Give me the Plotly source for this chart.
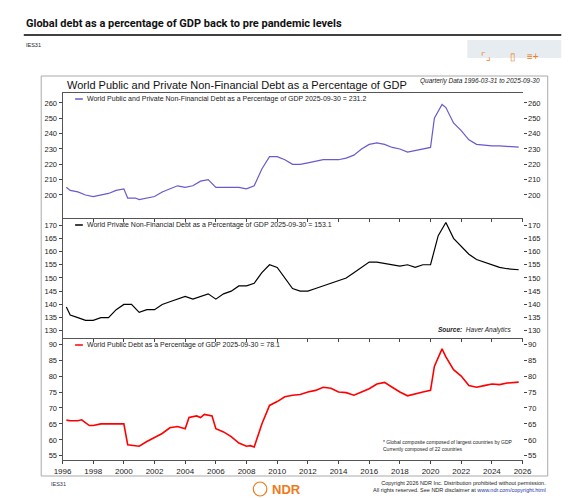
import plotly.graph_objects as go

t_total = [1996.25,1996.5,1997,1997.5,1998,1998.5,1999,1999.5,2000,2000.25,2000.75,2001,2001.5,2002,2002.5,2003,2003.5,2004,2004.5,2005,2005.5,2006,2006.5,2007,2007.5,2008,2008.5,2009,2009.5,2010,2010.5,2011,2011.5,2012,2012.5,2013,2013.5,2014,2014.5,2015,2015.5,2016,2016.5,2017,2017.5,2018,2018.5,2019,2019.5,2020,2020.25,2020.75,2021,2021.5,2022,2022.5,2023,2023.5,2024,2024.5,2025,2025.75]
v_total = [205,203,202,200,199,200,201,203,204,198,198,197,198,199,202,204,206,205,206,209,210,205,205,205,205,204,206,217,225,225,223,220,220,221,222,223,223,223,224,226,230,233,234,233,231,230,228,229,230,231,250,259,257,247,242,236,233,232.5,232,232,231.5,231.2]

t_priv = [1996.25,1996.5,1997,1997.5,1998,1998.5,1999,1999.5,2000,2000.5,2001,2001.5,2002,2002.5,2003,2003.5,2004,2004.5,2005,2005.5,2006,2006.5,2007,2007.5,2008,2008.5,2009,2009.5,2010,2010.5,2011,2011.5,2012,2012.5,2013,2013.5,2014,2014.5,2015,2015.5,2016,2016.5,2017,2017.5,2018,2018.5,2019,2019.5,2020,2020.5,2021,2021.5,2022,2022.5,2023,2023.5,2024,2024.5,2025,2025.75]
v_priv = [139,136,135,134,134,135,135,138,140,140,137,138,138,140,141,142,143,142,143,144,142,144,145,147,147,148,152,155,154,150,146,145,145,146,147,148,149,150,152,154,156,156,155.5,155,154.5,155,154,155,155,166,171,165,162,159,157,156,155,154,153.5,153.1]

t_pub = [1996.25,1996.5,1997,1997.25,1997.75,1998,1998.5,1999,1999.5,2000,2000.25,2000.5,2001,2001.5,2002,2002.5,2003,2003.5,2004,2004.25,2004.75,2005,2005.25,2005.75,2006,2006.5,2007,2007.5,2008,2008.25,2008.5,2009,2009.5,2010,2010.5,2011,2011.5,2012,2012.5,2013,2013.5,2014,2014.5,2015,2015.5,2016,2016.5,2017,2017.5,2018,2018.5,2019,2019.5,2020,2020.25,2020.75,2021,2021.5,2022,2022.5,2023,2023.5,2024,2024.5,2025,2025.75]
v_pub = [66.2,66,66,66.3,64.5,64.5,65,65,65.2,65,58.5,58.3,58,59.5,60.8,62,63.8,64.2,63.5,67,67.5,67,68,67.5,63.5,62.5,61,59,58,58.2,57.8,65,70.8,72,73.5,74,74.2,75,75.5,76.5,76.2,75,74.8,74,75,76,77.5,78,76.5,75,73.8,74.5,75,75.5,83,88.5,86,82,80,77,76.5,77,77.5,77.3,77.8,78.1]

x_ticks = list(range(1996, 2027, 2))
W, H = 571, 498
def py(p): return 1 - p / H
def px(p): return p / W

panels = [
    (t_total, v_total, "#6a5acd", "World Public and Private Non-Financial Debt as a Percentage of GDP 2025-09-30 = 231.2", (85, 210), [185, 266.5], list(range(200, 261, 10))),
    (t_priv, v_priv, "#000000", "World Private Non-Financial Debt as a Percentage of GDP 2025-09-30 = 153.1", (211, 330), [127.3, 172.3], list(range(130, 171, 5))),
    (t_pub, v_pub, "#ff0000", "World Public Debt as a Percentage of GDP 2025-09-30 = 78.1", (331, 452), [53.7, 91.6], list(range(55, 91, 5))),
]

fig = go.Figure()
layout = dict(width=W, height=H, margin=dict(l=0, r=0, t=0, b=0), paper_bgcolor="white",
              plot_bgcolor="white", showlegend=False, font=dict(family="Liberation Sans", size=7, color="#222"))
shapes, ann = [], []
for i, (t, v, c, lab, (top, bot), rng, tv) in enumerate(panels):
    n = i + 1
    xa = "x" if n == 1 else f"x{n}"
    ya = f"y{2*n-1}" if n > 1 else "y"
    yb = f"y{2*n}"
    fig.add_trace(go.Scatter(x=t, y=v, mode="lines", line=dict(color=c, width=1.6 if n == 3 else 1.2), xaxis=xa, yaxis=ya, hoverinfo="skip"))
    fig.add_trace(go.Scatter(x=t, y=v, mode="lines", line=dict(width=0), opacity=0, xaxis=xa, yaxis=yb, hoverinfo="skip"))
    xkey = "xaxis" if n == 1 else f"xaxis{n}"
    layout[xkey] = dict(domain=[px(47), px(522)], range=[1996, 2026], anchor=ya,
                        tickvals=x_ticks, showticklabels=(n == 3), ticks="outside", ticklen=3,
                        showline=True, linecolor="#555", mirror=True, showgrid=False, tickfont=dict(size=8))
    ykey = "yaxis" if n == 1 else f"yaxis{2*n-1}"
    layout[ykey] = dict(domain=[py(bot), py(top)], range=rng, tickvals=tv, anchor=xa, ticks="outside", ticklen=3,
                        showgrid=False, zeroline=False, tickfont=dict(size=7.5), showline=True, linecolor="#555")
    layout[f"yaxis{2*n}"] = dict(domain=[py(bot), py(top)], range=rng, tickvals=tv, anchor=xa, side="right",
                                 overlaying=ya, ticks="outside", ticklen=3, showgrid=False, zeroline=False,
                                 tickfont=dict(size=7.5))
    shapes.append(dict(type="line", xref="paper", yref="paper", x0=px(60), x1=px(68), y0=py(top + 6), y1=py(top + 6), line=dict(color=c, width=1.5)))
    ann.append(dict(text=lab, xref="paper", yref="paper", x=px(70), y=py(top + 6), xanchor="left", yanchor="middle", showarrow=False, font=dict(size=7)))

shapes += [
    dict(type="rect", xref="paper", yref="paper", x0=px(25), x1=px(548), y0=py(468), y1=py(68), line=dict(color="#aaa", width=1)),
    dict(type="line", xref="paper", yref="paper", x0=px(7), x1=px(562), y0=py(27), y1=py(27), line=dict(color="#000", width=1.5)),
    dict(type="rect", xref="paper", yref="paper", x0=px(465), x1=px(562), y0=py(50), y1=py(32), fillcolor="#e6ecef", line=dict(width=0)),
    dict(type="circle", xref="paper", yref="paper", x0=px(244), x1=px(258), y0=py(488), y1=py(474), line=dict(color="#f07a1a", width=1.2)),
]
ann += [
    dict(text="<b>Global debt as a percentage of GDP back to pre pandemic levels</b>", x=px(7), y=py(16), xanchor="left", yanchor="middle", font=dict(size=11, color="#111", family="Roboto")),
    dict(text="IES31", x=px(7), y=py(37), xanchor="left", yanchor="middle", font=dict(size=5.5)),
    dict(text="⌜⌟", x=px(492), y=py(41), font=dict(size=10, color="#f07a1a")),
    dict(text="▯", x=px(517), y=py(41), font=dict(size=10, color="#f07a1a")),
    dict(text="≡+", x=px(541), y=py(41), font=dict(size=10, color="#f07a1a")),
    dict(text="World Public and Private Non-Financial Debt as a Percentage of GDP", x=px(50), y=py(77), xanchor="left", yanchor="middle", font=dict(size=11, color="#111")),
    dict(text="<i>Quarterly Data 1996-03-31 to 2025-09-30</i>", x=px(542), y=py(73), xanchor="right", yanchor="middle", font=dict(size=6.5)),
    dict(text="<b><i>Source:</i></b>  <i>Haver Analytics</i>", x=px(512), y=py(322), xanchor="right", yanchor="middle", font=dict(size=6.5)),
    dict(text="* Global composite composed of largest countries by GDP<br>Currently composed of 22 countries", x=px(376), y=py(437), xanchor="left", yanchor="middle", align="left", font=dict(size=5)),
    dict(text="IES31", x=px(33), y=py(476), xanchor="left", yanchor="middle", font=dict(size=5.5, color="#335")),
    dict(text="<b>NDR</b>", x=px(261), y=py(481), xanchor="left", yanchor="middle", font=dict(size=13, color="#f07a1a")),
    dict(text="Copyright 2026 NDR Inc. Distribution prohibited without permission.<br>All rights reserved. See NDR disclaimer at <span style='color:#2233aa'>www.ndr.com/copyright.html</span>", x=px(548), y=py(478), xanchor="right", yanchor="middle", align="right", font=dict(size=5.5)),
]
for a in ann:
    a.setdefault("xref", "paper"); a.setdefault("yref", "paper"); a["showarrow"] = False
layout["shapes"] = shapes
layout["annotations"] = ann
fig.update_layout(**layout)
fig.write_html("out.html")
